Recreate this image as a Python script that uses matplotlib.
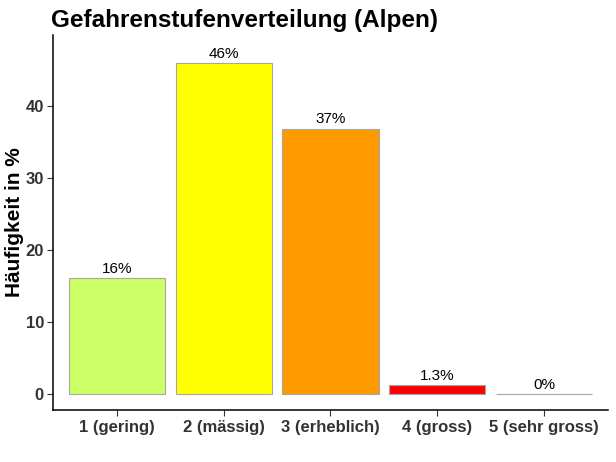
import matplotlib.pyplot as plt

plt.rcParams["font.family"] = ["Liberation Sans", "DejaVu Sans"]

categories = ["1 (gering)", "2 (mässig)", "3 (erheblich)", "4 (gross)", "5 (sehr gross)"]
values = [16.1, 46.0, 36.9, 1.3, 0.0]
labels = ["16%", "46%", "37%", "1.3%", "0%"]
colors = ["#CCFF66", "#FFFF00", "#FF9900", "#FF0000", "#808080"]

fig = plt.figure(figsize=(6.16, 4.62), dpi=100)
ax = fig.add_axes([0.086, 0.1126, 0.901, 0.8114])

x = list(range(1, len(categories) + 1))
ax.bar(x, values, width=0.9, color=colors, edgecolor="#A6A6A6", linewidth=0.8)
for xi, v, lab in zip(x, values, labels):
    ax.text(xi, v + 0.3, lab, ha="center", va="bottom", fontsize=11, color="black")

ax.set_xlim(0.4, 5.6)
ax.set_ylim(-2.2, 49.9)
ax.set_xticks(x)
ax.set_xticklabels(categories)
ax.set_yticks([0, 10, 20, 30, 40])

for lab in ax.get_xticklabels() + ax.get_yticklabels():
    lab.set_fontweight("bold")
    lab.set_fontsize(12)
    lab.set_color("#333333")
ax.tick_params(direction="out", length=4, color="#333333", width=0.8)
ax.tick_params(axis="y", pad=2.5)

ax.spines["top"].set_visible(False)
ax.spines["right"].set_visible(False)
ax.spines["left"].set_linewidth(1.1)
ax.spines["bottom"].set_linewidth(1.1)

ax.set_ylabel("Häufigkeit in %", fontsize=15, fontweight="bold", va="center")
ax.yaxis.set_label_coords(-0.07, 0.5)
ax.set_title("Gefahrenstufenverteilung (Alpen)", fontsize=17.5, fontweight="bold",
             loc="left", x=-0.004, pad=6)

fig.savefig("out.png", dpi=100)
